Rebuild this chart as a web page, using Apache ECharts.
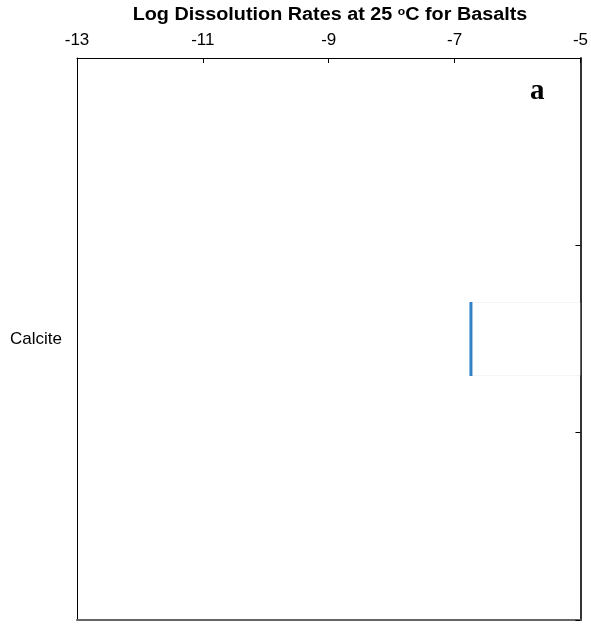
<!DOCTYPE html>
<html>
<head>
<meta charset="utf-8">
<script src="https://cdn.jsdelivr.net/npm/echarts@6/dist/echarts.min.js"></script>
<style>
html,body{margin:0;padding:0;background:#fff;}
#chart{width:591px;height:625px;}
</style>
</head>
<body>
<div id="chart"></div>
<script>
// ---- data ----
var categories = ['', 'Calcite', ''];
var rateValues = [null, -6.74, null];
var xTicks = [-13, -11, -9, -7, -5];
var panelLabel = 'a';

var chart = echarts.init(document.getElementById('chart'));
var lineData = [];
for (var i = 0; i < categories.length; i++) {
  if (rateValues[i] != null) lineData.push([rateValues[i], categories[i]]);
}
var font = '"Liberation Sans", Arial, sans-serif';
chart.setOption({
  animation: false,
  backgroundColor: '#fff',
  graphic: [{
    type: 'text', x: 330, y: 15, scaleX: 1.1,
    style: {
      text: 'Log Dissolution Rates at 25 {sup|o}C for Basalts',
      fontFamily: font, fontSize: 18, fontWeight: 'bold', fill: '#000',
      align: 'center', verticalAlign: 'middle',
      rich: { sup: { fontFamily: font, fontSize: 11, fontWeight: 'bold', fill: '#000', verticalAlign: 'top', padding: [0, 0, 7, 0] } }
    }
  }, {
    type: 'text', left: 530, top: 77,
    style: { text: panelLabel, font: 'bold 29px "Liberation Serif", "Times New Roman", serif', fill: '#000' }
  }],
  grid: { left: 77, right: 8, top: 58, bottom: 5 },
  xAxis: [{
    type: 'value', position: 'top', min: xTicks[0], max: xTicks[xTicks.length - 1], interval: 2,
    axisLine: { show: true, lineStyle: { color: '#000', width: 1 } },
    axisTick: { show: true, inside: true, length: 5, lineStyle: { color: '#000' } },
    axisLabel: { fontFamily: font, fontSize: 17, color: '#000', margin: 9 },
    splitLine: { show: false }
  }, {
    type: 'value', position: 'bottom', min: xTicks[0], max: xTicks[xTicks.length - 1], interval: 2,
    axisLine: { show: true, lineStyle: { color: '#666', width: 2 } },
    axisTick: { show: false }, axisLabel: { show: false }, splitLine: { show: false }
  }],
  yAxis: [{
    type: 'category', position: 'left', data: categories,
    axisLine: { show: true, lineStyle: { color: '#000', width: 1 } },
    axisTick: { show: false },
    axisLabel: { fontFamily: font, fontSize: 17, color: '#000', margin: 15 },
    splitLine: { show: false }
  }, {
    type: 'category', position: 'right', data: categories,
    axisLine: { show: true, lineStyle: { color: '#333', width: 2 } },
    axisTick: { show: true, inside: true, length: 5, lineStyle: { color: '#000' } },
    axisLabel: { show: false }, splitLine: { show: false }
  }],
  series: [{
    type: 'bar', xAxisIndex: 0, yAxisIndex: 0, data: rateValues,
    barWidth: 74, z: 3,
    itemStyle: { color: 'rgba(255,255,255,0.55)', borderColor: 'rgba(0,0,0,0.04)', borderWidth: 1 }
  }, {
    type: 'scatter', xAxisIndex: 0, yAxisIndex: 0, data: lineData,
    symbol: 'rect', symbolSize: [3, 74], z: 4,
    itemStyle: { color: '#0064bc' }
  }]
});
</script>
</body>
</html>
